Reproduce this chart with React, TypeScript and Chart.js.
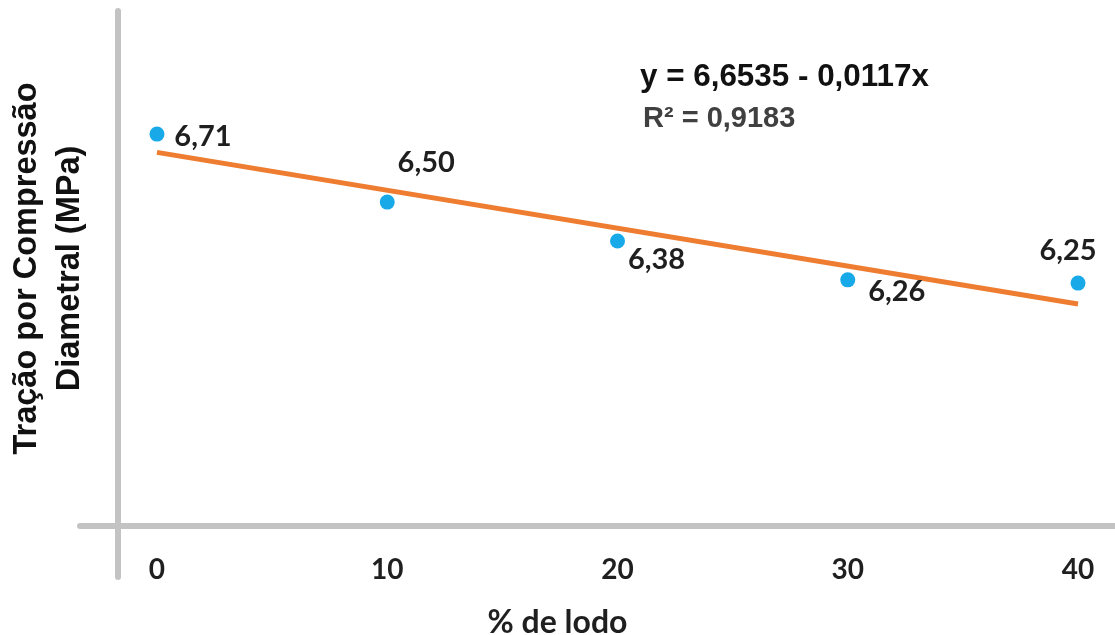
import React, { useEffect, useRef } from "react";
import { Chart, registerables } from "chart.js";

Chart.register(...registerables);

// ---- data ----
const sludgePercent = [0, 10, 20, 30, 40];
const tensileStrength = [6.71, 6.5, 6.38, 6.26, 6.25];
const trendX = [0, 40];
const trendY = [6.6535, 6.1855];
const xTickValues = [0, 10, 20, 30, 40];
const equationText = "y = 6,6535 - 0,0117x";
const r2Text = "R² = 0,9183";
const yTitle = ["Tração por Compressão", "Diametral (MPa)"];
const xTitle = "% de lodo";

// label offsets (style, px) relative to each point
const labelOffsets = [
  [46, 3],
  [39, -39],
  [39, 19],
  [49, 12],
  [-10, -32],
];

const AXIS_GRAY = "#C3C3C3";
const LABEL_FONT = "bold 29px Lato";

const decorPlugin = {
  id: "decor",
  beforeDatasetsDraw(chart: any) {
    const { ctx, chartArea } = chart;
    ctx.save();
    ctx.strokeStyle = AXIS_GRAY;
    ctx.lineWidth = 6;
    ctx.lineCap = "round";
    // y axis line
    ctx.beginPath();
    ctx.moveTo(chartArea.left, chartArea.top);
    ctx.lineTo(chartArea.left, chartArea.bottom + 51);
    ctx.stroke();
    // x axis line
    ctx.beginPath();
    ctx.moveTo(chartArea.left - 38, chartArea.bottom);
    ctx.lineTo(chart.width + 10, chartArea.bottom);
    ctx.stroke();
    ctx.restore();
  },
  afterDatasetsDraw(chart: any) {
    const { ctx } = chart;
    const meta = chart.getDatasetMeta(1);
    ctx.save();
    ctx.font = LABEL_FONT;
    ctx.fillStyle = "#1f1f1f";
    ctx.textAlign = "center";
    ctx.textBaseline = "middle";
    meta.data.forEach((el: any, i: number) => {
      const v = tensileStrength[i];
      const [dx, dy] = labelOffsets[i];
      ctx.fillText(v.toFixed(2).replace(".", ","), el.x + dx, el.y + dy);
    });
    // equation
    ctx.textAlign = "left";
    ctx.font = "bold 31.4px 'Liberation Sans', Arial, sans-serif";
    ctx.fillStyle = "#111111";
    ctx.fillText(equationText, 640, 77);
    ctx.font = "bold 29px 'Liberation Sans', Arial, sans-serif";
    ctx.fillStyle = "#404040";
    ctx.fillText(r2Text, 643, 119);
    ctx.restore();
  },
};

export default function App() {
  const ref = useRef<HTMLCanvasElement>(null);
  useEffect(() => {
    if (!ref.current) return;
    const chart = new Chart(ref.current, {
      type: "scatter",
      data: {
        datasets: [
          {
            label: "Tendência",
            data: trendX.map((x, i) => ({ x, y: trendY[i] })),
            showLine: true,
            borderColor: "#EE7D31",
            borderWidth: 5,
            pointRadius: 0,
            pointHoverRadius: 0,
            borderCapStyle: "butt",
            order: 2,
          },
          {
            label: "Tração",
            data: sludgePercent.map((x, i) => ({ x, y: tensileStrength[i] })),
            showLine: false,
            backgroundColor: "#18A9E9",
            borderWidth: 0,
            pointRadius: 7.5,
            order: 1,
          },
        ],
      },
      options: {
        responsive: false,
        animation: false,
        clip: false as any,
        layout: { padding: { top: 11, left: 0, right: 0, bottom: 0 } },
        plugins: {
          legend: { display: false },
          tooltip: { enabled: false },
          title: {
            display: true,
            position: "bottom",
            fullSize: true,
            text: xTitle,
            color: "#1f1f1f",
            font: { family: "Lato", size: 32, weight: "bold", lineHeight: "24px" as any },
            padding: { top: 0, bottom: 0 },
          },
        },
        scales: {
          x: {
            type: "linear",
            min: -1.693,
            max: 41.28,
            grid: { display: false, drawTicks: false },
            border: { display: false },
            afterBuildTicks: (scale: any) => {
              scale.ticks = xTickValues.map((v) => ({ value: v }));
            },
            afterFit: (scale: any) => {
              scale.height = 85;
              scale.paddingLeft = 0;
              scale.paddingRight = 0;
            },
            ticks: {
              color: "#1f1f1f",
              font: { family: "Lato", size: 28, weight: "bold" },
              padding: 27,
              maxRotation: 0,
              autoSkip: false,
            },
          },
          y: {
            type: "linear",
            min: 5.5,
            max: 7.09,
            grid: { display: false, drawTicks: false },
            border: { display: false },
            ticks: { display: false },
            afterFit: (scale: any) => {
              scale.width = 118;
              scale.paddingTop = 0;
              scale.paddingBottom = 0;
            },
            title: {
              display: true,
              text: yTitle,
              color: "#111111",
              font: {
                family: "'Liberation Sans', Arial, sans-serif",
                size: 32.5,
                weight: "bold",
                lineHeight: "43px" as any,
              },
              padding: { top: 5.5, bottom: 0 },
            },
          },
        },
      },
      plugins: [decorPlugin],
    });
    return () => chart.destroy();
  }, []);
  return (
    <div style={{ position: "absolute", left: 0, top: 0, width: 1115, height: 635, background: "#fff" }}>
      <canvas ref={ref} width={1115} height={635} style={{ display: "block" }} />
    </div>
  );
}
